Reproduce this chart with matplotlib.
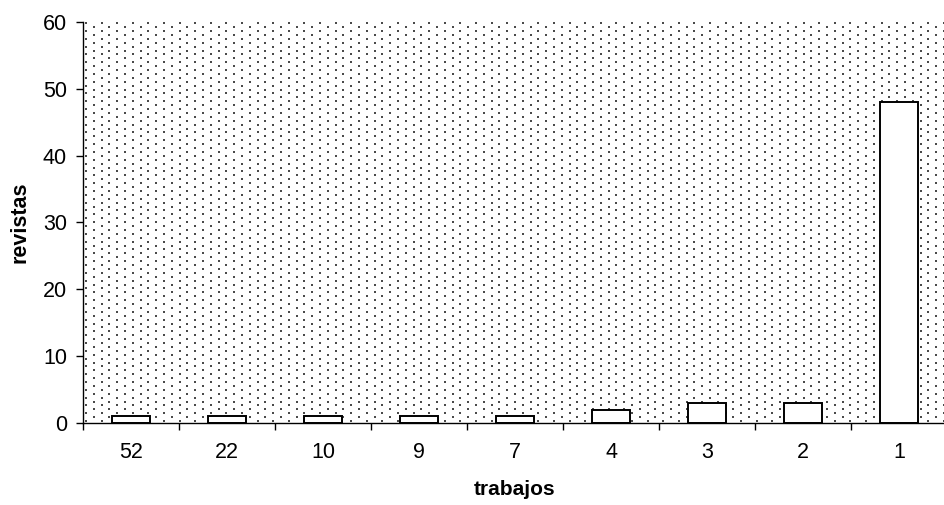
import matplotlib.pyplot as plt
import numpy as np

plt.rcParams['font.family'] = ['Liberation Sans', 'DejaVu Sans']

# data
trabajos = ['52', '22', '10', '9', '7', '4', '3', '2', '1']
revistas = [1, 1, 1, 1, 1, 2, 3, 3, 48]

fig = plt.figure(figsize=(9.44, 5.05), dpi=100)
ax = fig.add_axes([83 / 944, 82 / 505, 864 / 944, 401 / 505])

# dotted background like the old excel pattern fill (staggered dots)
W, H = 864, 401
step = 7.8
pts = []
for i, xp in enumerate(np.arange(3, W, step)):
    off = 0 if i % 2 == 0 else step / 2
    for yp in np.arange(2 + off, H, step):
        pts.append((xp / W, yp / H))
pts = np.array(pts)
ax.scatter(pts[:, 0], pts[:, 1], s=2.2, c='#4a4a4a', marker='s', linewidths=0,
           transform=ax.transAxes, zorder=0)

x = np.arange(len(trabajos))
ax.bar(x, revistas, width=0.4, color='white', edgecolor='black', linewidth=1.4, zorder=2)

ax.set_xlim(-0.5, len(trabajos) - 0.5)
ax.set_ylim(0, 60)
ax.set_yticks(range(0, 61, 10))
ax.set_xticks(x)
ax.set_xticklabels(trabajos)
ax.set_xticks(np.arange(-0.5, len(trabajos), 1), minor=True)
ax.tick_params(axis='x', which='major', length=0, pad=14, labelsize=15.5)
ax.tick_params(axis='x', which='minor', length=5, width=1, direction='out')
ax.tick_params(axis='y', length=5, width=1, direction='out', labelsize=15.5, pad=6.5)

for s in ['top', 'right']:
    ax.spines[s].set_visible(False)
ax.spines['left'].set_linewidth(1)
ax.spines['bottom'].set_linewidth(1)

ax.set_xlabel('trabajos', fontweight='bold', fontsize=15, labelpad=12)
ax.set_ylabel('revistas', fontweight='bold', fontsize=15.5, labelpad=9)

fig.savefig('out.png', dpi=100)
